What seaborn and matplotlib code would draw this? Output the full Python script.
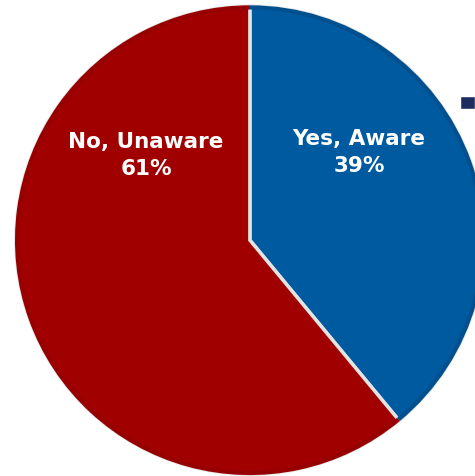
import matplotlib
matplotlib.use('Agg')
import matplotlib.pyplot as plt
import seaborn as sns
from matplotlib.patches import Patch

# 데이터
labels = ['Yes, Aware', 'No, Unaware']
values = [39, 61]
colors = ['#005AA0', '#A00000']
rim_colors = ['#004F8E', '#960000']
legend_color = '#1F2D5E'

sns.set_theme(style='white')
plt.rcParams['font.family'] = ['DejaVu Sans']

fig = plt.figure(figsize=(4.75, 4.77), dpi=100)
ax = fig.add_axes([0, 0, 1, 1])

# 본체 파이 (조각 사이 흰 경계)
ax.pie(values, colors=sns.color_palette(colors), startangle=90, counterclock=False,
       radius=1.0, wedgeprops=dict(edgecolor='#e4e4e4', linewidth=2.5))
# 바깥 테두리 회색 선을 덮는 얇은 링
ax.pie(values, colors=sns.color_palette(rim_colors), startangle=90, counterclock=False,
       radius=1.004, wedgeprops=dict(width=0.018, edgecolor='none', linewidth=0))

# 라벨 위치 (데이터 좌표)
label_pos = [(0.466, 0.38), (-0.444, 0.365)]
for (x, y), lab, v in zip(label_pos, labels, values):
    ax.text(x, y, f'{lab}\n{v}%', ha='center', va='center', color='white',
            fontsize=15.5, fontweight='bold', linespacing=1.45)

ax.set_xlim(-1.068, 0.962)
ax.set_ylim(-1.008, 1.031)
ax.set_aspect('auto')
ax.axis('off')

# 오른쪽 위 범례 마커 (텍스트는 잘려 보이지 않음)
fig.legend(handles=[Patch(facecolor=legend_color)], labels=[''],
           loc='upper left', bbox_to_anchor=(460 / 475, 1 - 97 / 477),
           frameon=False, fontsize=11, handlelength=1.0, handleheight=0.95,
           borderpad=0, borderaxespad=0, handletextpad=0.5)

fig.savefig('out.png', dpi=100)
